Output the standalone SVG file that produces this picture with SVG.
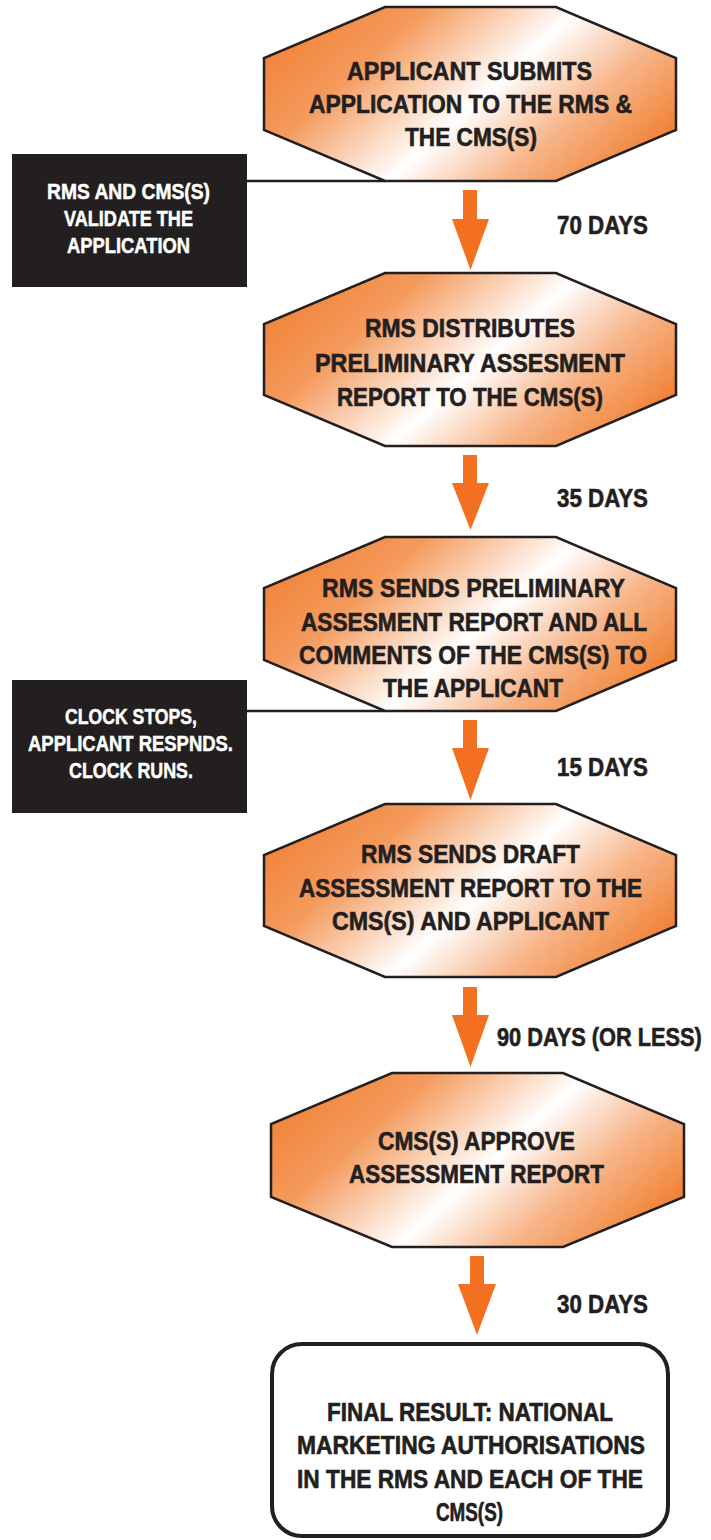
<svg xmlns="http://www.w3.org/2000/svg" width="711" height="1540" viewBox="0 0 711 1540">
<defs>
<linearGradient id="og" x1="0" y1="0.265" x2="1" y2="0.735">
<stop offset="0" stop-color="#f1843a"/>
<stop offset="0.22" stop-color="#f49a5c"/>
<stop offset="0.53" stop-color="#ffffff"/>
<stop offset="0.75" stop-color="#f7b68b"/>
<stop offset="1" stop-color="#f07f2f"/>
</linearGradient>
<style>
.oct{fill:url(#og);stroke:#231f20;stroke-width:2.5;stroke-linejoin:miter}
.t{font-family:"Liberation Sans Narrow","Liberation Sans",Arial,sans-serif;font-weight:bold;font-size:25px;fill:#231f20;stroke:#231f20;stroke-width:0.6}
.w{font-family:"Liberation Sans Narrow","Liberation Sans",Arial,sans-serif;font-weight:bold;font-size:22px;fill:#ffffff;stroke:#ffffff;stroke-width:0.5}
.blk{fill:#231f20}
.arr{fill:#f37021}
.ln{stroke:#231f20;stroke-width:2.5;fill:none}
</style>
</defs>
<rect width="711" height="1540" fill="#ffffff"/>

<g id="connectors">
<line class="ln" x1="247" y1="181" x2="385" y2="181"/>
<line class="ln" x1="247" y1="711" x2="385" y2="711"/>
<polygon class="arr" points="463,190 477,190 477,219 489,219 470.5,270 452,219 463,219"/>
<polygon class="arr" points="463,455 477,455 477,483 489,483 470.5,530 452,483 463,483"/>
<polygon class="arr" points="463,720 477,720 477,748 489,748 470.5,800 452,748 463,748"/>
<polygon class="arr" points="463,987 477,987 477,1015 489,1015 470.5,1067 452,1015 463,1015"/>
<polygon class="arr" points="470,1256 484,1256 484,1284 496,1284 477,1335 458,1284 470,1284"/>
<text class="t" x="557" y="234" textLength="91" lengthAdjust="spacingAndGlyphs">70 DAYS</text>
<text class="t" x="557" y="507" textLength="91" lengthAdjust="spacingAndGlyphs">35 DAYS</text>
<text class="t" x="557" y="776" textLength="91" lengthAdjust="spacingAndGlyphs">15 DAYS</text>
<text class="t" transform="translate(497,1046) scale(0.85,1)" x="0" y="0" textLength="241" lengthAdjust="spacingAndGlyphs">90 DAYS (OR LESS)</text>
<text class="t" x="557" y="1313" textLength="91" lengthAdjust="spacingAndGlyphs">30 DAYS</text>
</g>

<g id="node-submit">
<polygon class="oct" points="385,7 556,7 676,58 676,130 556,181 385,181 264,130 264,58"/>
<text class="t" x="347" y="80" textLength="245" lengthAdjust="spacingAndGlyphs">APPLICANT SUBMITS</text>
<text class="t" x="309" y="113" textLength="323" lengthAdjust="spacingAndGlyphs">APPLICATION TO THE RMS &amp;</text>
<text class="t" x="405" y="146" textLength="132" lengthAdjust="spacingAndGlyphs">THE CMS(S)</text>
</g>

<g id="note-validate">
<rect class="blk" x="12" y="154" width="235" height="133"/>
<text class="w" x="47" y="199" textLength="163" lengthAdjust="spacingAndGlyphs">RMS AND CMS(S)</text>
<text class="w" x="64" y="226" textLength="129" lengthAdjust="spacingAndGlyphs">VALIDATE THE</text>
<text class="w" x="67" y="253" textLength="123" lengthAdjust="spacingAndGlyphs">APPLICATION</text>
</g>

<g id="node-distribute">
<polygon class="oct" points="385,273 556,273 676,324 676,395 556,446 385,446 264,395 264,324"/>
<text class="t" x="365" y="337" textLength="210" lengthAdjust="spacingAndGlyphs">RMS DISTRIBUTES</text>
<text class="t" x="315" y="372" textLength="310" lengthAdjust="spacingAndGlyphs">PRELIMINARY ASSESMENT</text>
<text class="t" x="337" y="406" textLength="266" lengthAdjust="spacingAndGlyphs">REPORT TO THE CMS(S)</text>
</g>

<g id="node-sends-preliminary">
<polygon class="oct" points="385,537 556,537 676,588 676,660 556,711 385,711 264,660 264,588"/>
<text class="t" x="322" y="597" textLength="303" lengthAdjust="spacingAndGlyphs">RMS SENDS PRELIMINARY</text>
<text class="t" x="301" y="631" textLength="346" lengthAdjust="spacingAndGlyphs">ASSESMENT REPORT AND ALL</text>
<text class="t" x="299" y="664" textLength="348" lengthAdjust="spacingAndGlyphs">COMMENTS OF THE CMS(S) TO</text>
<text class="t" x="383" y="697" textLength="180" lengthAdjust="spacingAndGlyphs">THE APPLICANT</text>
</g>

<g id="note-clock">
<rect class="blk" x="12" y="680" width="235" height="133"/>
<text class="w" x="65" y="724" textLength="132" lengthAdjust="spacingAndGlyphs">CLOCK STOPS,</text>
<text class="w" x="28" y="751" textLength="205" lengthAdjust="spacingAndGlyphs">APPLICANT RESPNDS.</text>
<text class="w" x="69" y="778" textLength="124" lengthAdjust="spacingAndGlyphs">CLOCK RUNS.</text>
</g>

<g id="node-draft">
<polygon class="oct" points="385,804 556,804 676,855 676,926 556,977 385,977 264,926 264,855"/>
<text class="t" x="361" y="863" textLength="219" lengthAdjust="spacingAndGlyphs">RMS SENDS DRAFT</text>
<text class="t" x="299" y="897" textLength="343" lengthAdjust="spacingAndGlyphs">ASSESSMENT REPORT TO THE</text>
<text class="t" x="332" y="930" textLength="277" lengthAdjust="spacingAndGlyphs">CMS(S) AND APPLICANT</text>
</g>

<g id="node-approve">
<polygon class="oct" points="392,1073 563,1073 684,1124 684,1197 563,1247 392,1247 271,1197 271,1124"/>
<text class="t" x="378" y="1150" textLength="197" lengthAdjust="spacingAndGlyphs">CMS(S) APPROVE</text>
<text class="t" x="349" y="1183" textLength="255" lengthAdjust="spacingAndGlyphs">ASSESSMENT REPORT</text>
</g>

<g id="node-final">
<rect x="272" y="1344" width="396" height="192" rx="30" ry="30" fill="#ffffff" stroke="#231f20" stroke-width="4"/>
<text class="t" x="327" y="1421" textLength="286" lengthAdjust="spacingAndGlyphs">FINAL RESULT: NATIONAL</text>
<text class="t" x="297" y="1454" textLength="348" lengthAdjust="spacingAndGlyphs">MARKETING AUTHORISATIONS</text>
<text class="t" x="297" y="1488" textLength="346" lengthAdjust="spacingAndGlyphs">IN THE RMS AND EACH OF THE</text>
<text class="t" x="436" y="1521" textLength="67" lengthAdjust="spacingAndGlyphs">CMS(S)</text>
</g>
</svg>
